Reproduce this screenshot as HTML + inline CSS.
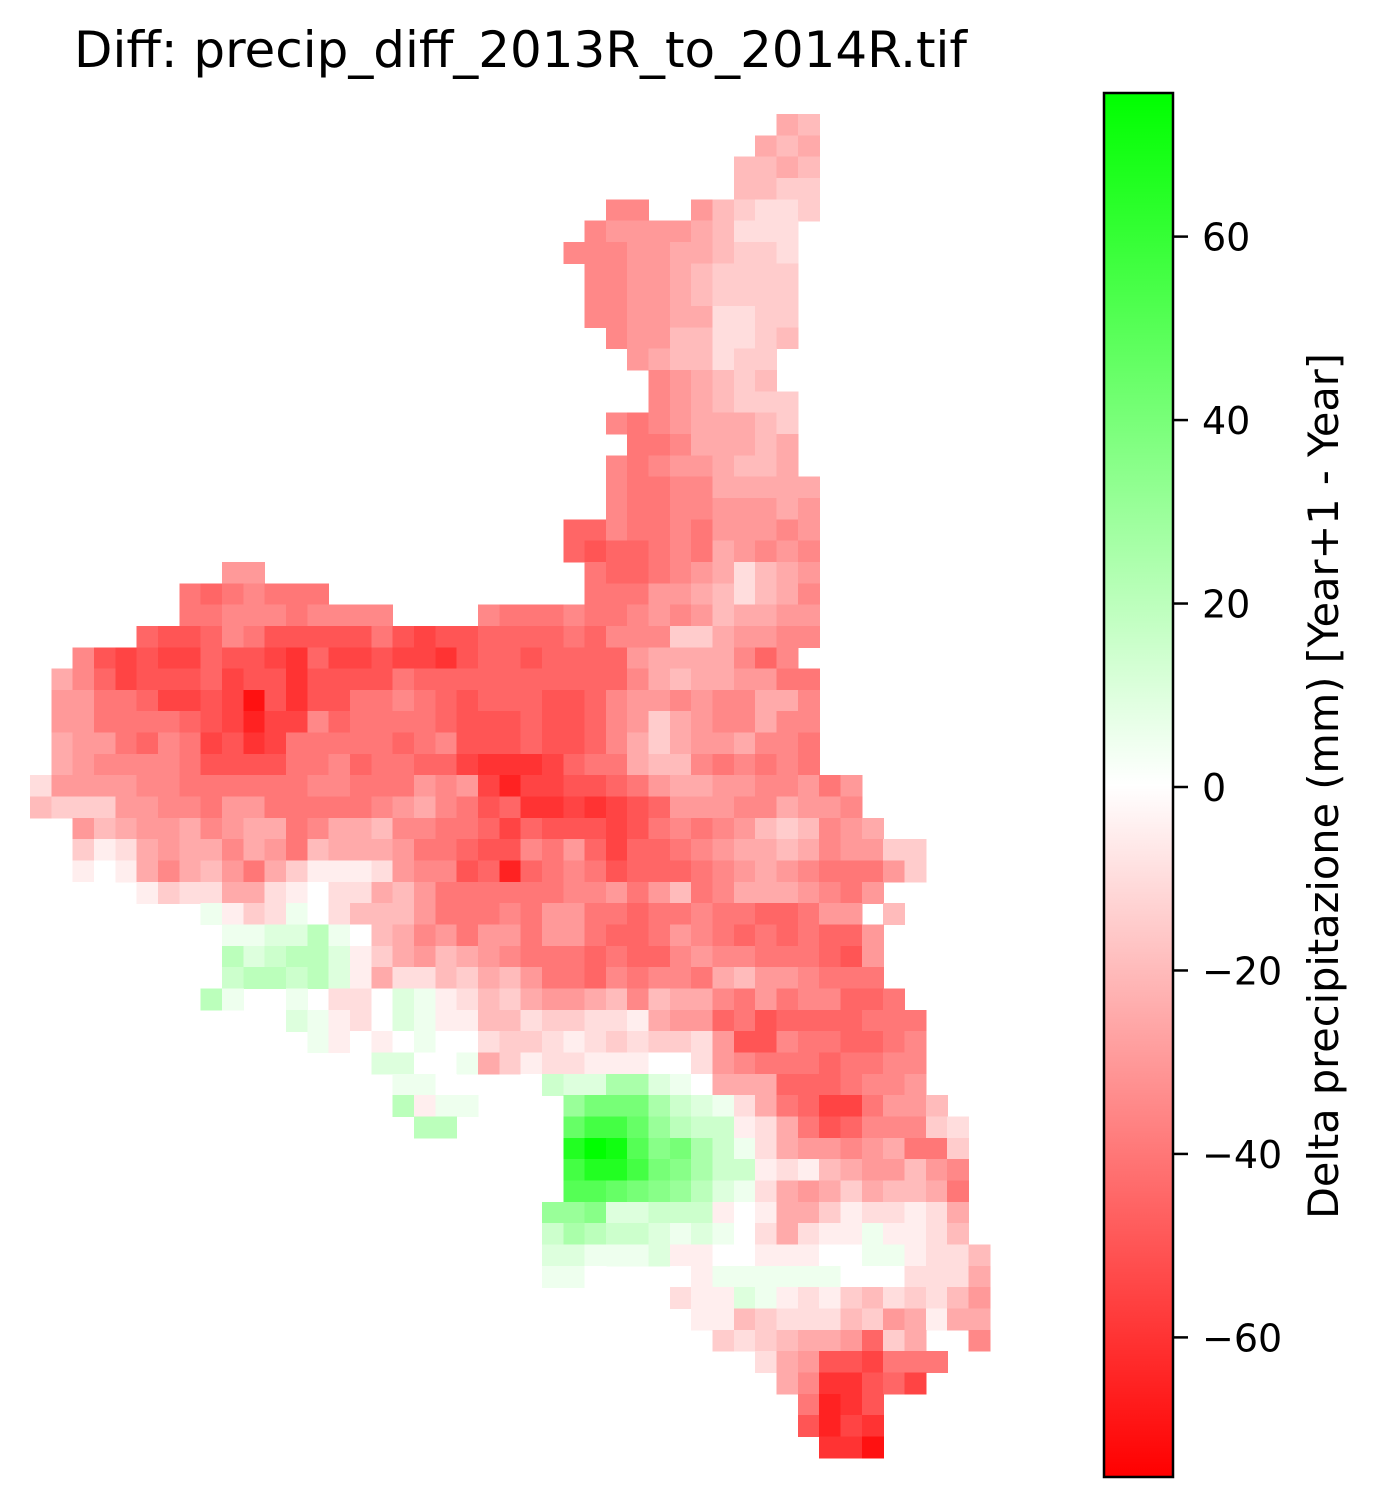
<!DOCTYPE html>
<html>
<head>
<meta charset="utf-8">
<style>
html,body{margin:0;padding:0;background:#fff;}
svg{display:block;font-family:"DejaVu Sans","Liberation Sans",sans-serif;}
</style>
</head>
<body>
<svg id="chart" width="1376" height="1509" viewBox="0 0 1376 1509" xmlns="http://www.w3.org/2000/svg">
  <text x="74" y="67" font-size="50" textLength="893" lengthAdjust="spacingAndGlyphs" fill="#000">Diff: precip_diff_2013R_to_2014R.tif</text>
  <g id="raster" shape-rendering="crispEdges"></g>
  <defs>
    <linearGradient id="cbgrad" x1="0" y1="0" x2="0" y2="1">
      <stop offset="0" stop-color="#00ff00"/>
      <stop offset="0.5" stop-color="#ffffff"/>
      <stop offset="1" stop-color="#ff0000"/>
    </linearGradient>
  </defs>
  <rect x="1104" y="93" width="69" height="1384" fill="url(#cbgrad)" stroke="#000" stroke-width="2.5"/>
  <g id="cbticks"></g>
  <text transform="translate(1338,786) rotate(-90)" text-anchor="middle" font-size="42" textLength="866" lengthAdjust="spacingAndGlyphs" fill="#000">Delta precipitazione (mm) [Year+1 - Year]</text>
</svg>
<script>
// Raster rows: "startCol:codes" segments; '.' = no data.
// codes: a..n = -70..-5 (step 5), 0 = 0, A..O = +5..+75
const rasterRows = [
"35:jk","34:jkj","33:kkjk","33:kkll","27:hh..iklmml","26:hiiiijkmmm","25:hhhiijjkllm",
"26:hhiijkllll","26:hhiijkllll","26:hhiijjmmll","27:hiikkmmlk","28:ijkkmll","29:hijklk",
"29:hijklll","27:hghijjjkl","28:gghjjjkj","27:hghiijkkj","27:hgghhjjjjj","27:hgghhiiiji",
"25:ffhgghgiiihi","25:feffghgjihih","9:ii 26:gffghijmkji","7:gfghggg 26:gggiijkmkjh",
"7:gghhhghhhh 21:hggghgghihikjjii",
"5:feefhgeeeeegedeeffffgfhhhlljiihh",
"2:hededdfeedcfddeddceffeffffijjjjhfh",
"1:jhfdeeefdeeceeeegffffffffffhjkjjiigg",
"1:iiggfddedaeceegghgfefffeefhiihihhjjh",
"1:iiggggfedbddhfggggfeeefeefhiljihhjhh",
"1:jiigfhgdecdgggggfgheeefeefhjljiijhhg",
"1:jihhhhgeeeegghfggffdcccdfggjkkhghghg",
"0:miiiihhgggggghhgggihidbddeefgijjiihhigi",
"0:kllliihhgiiggggghijhgefccdcdefiiihhjiih",
"2:ikjiijhijjghjjkhhggfdfeeedeghghiklkhij",
"2:lnmjijjhjigkjjjiggfeehgifdffghijjkjhiill",
"2:n0njhjkigjlnnnmihhefbfghgefffghijihgggil",
"2:0 5:nlmmjjmn0mmjkigggggghhigikghjjjihgi",
"8:AnlmA0mkkkiggghgiiggfgghggffgii 40:k",
"9:AABBDA0kjhigiigiigffgihgfgfgffi",
"9:DBCDDBnljikjihgggfgffhihhgggfei",
"9:CDDCDBnjmmkljkiggfhghhgjkiihggg",
"8:DA 12:A 14:mm0BAnmkljiijkhkjjhgighhffg",
"12:BAnm0BAnnkkmllmmnjiifgeffffggg",
"13:An0n0A00mllmnmlmllmieehggffgh",
"16:BB00Ajlnmmnnn00mihgggfgghh",
"17:AA0 23:0CBBEEBA0jjjfffghhi",
"17:DnAA 25:FHHHECBAmjgfddgiik",
"18:DD 25:IKKIFDCCnmjgefhhhlm",
"25:MONJGHECAmjiihijggl",
"25:KMMKHGECCnmnkjiikih",
"25:JJIHGFDBAmjijljkkjg",
"24:FFGBBCCCn0njjlnmmnmj",
"24:CEDCCBABA0mjmnnAnnmk",
"24:BBAAABnn00nnn00AAnmmk",
"24:AA0 30:0nAAAAAA000mmmj",
"30:mnnBAnmnlkmlmki",
"31:nnklmmmklijnjj",
"32:lmlkjjiflj 44:h",
"34:mjieedggg",
"35:jhccefd",
"36:gbce",
"36:ebdc",
"37:cca"
];
const cbTickValues = [60, 40, 20, 0, -20, -40, -60];
const cbTickLabels = ["60", "40", "20", "0", "\u221220", "\u221240", "\u221260"];
const vRange = [-75, 75];

const NS = "http://www.w3.org/2000/svg";
const X0 = 30, Y0 = 114, CELL = 21.33;
function colX(c){ return X0 + c * CELL; }
function rowY(r){ return Y0 + r * CELL; }
function decode(ch){
  if (ch === '0') return 0;
  const lo = "abcdefghijklmn".indexOf(ch);
  if (lo >= 0) return -70 + 5 * lo;
  const up = "ABCDEFGHIJKLMNO".indexOf(ch);
  if (up >= 0) return 5 * (up + 1);
  return null;
}
function color(v){
  const t = Math.min(1, Math.abs(v) / vRange[1]);
  const o = Math.round(255 * (1 - t));
  return v < 0 ? `rgb(255,${o},${o})` : `rgb(${o},255,${o})`;
}
const raster = document.getElementById('raster');
rasterRows.forEach((row, r) => {
  row.split(' ').forEach(seg => {
    const parts = seg.split(':');
    if (parts.length !== 2) return;
    const start = parseInt(parts[0], 10);
    const codes = parts[1];
    for (let i = 0; i < codes.length; i++) {
      const v = decode(codes[i]);
      if (v === null) continue;
      const c = start + i;
      const rect = document.createElementNS(NS, 'rect');
      
      
      rect.setAttribute('x', colX(c).toFixed(2));
      rect.setAttribute('y', rowY(r).toFixed(2));
      rect.setAttribute('width', (CELL + 0.6).toFixed(2));
      rect.setAttribute('height', (CELL + 0.6).toFixed(2));
      rect.setAttribute('fill', color(v));
      raster.appendChild(rect);
    }
  });
});
// colorbar axis
const CB_TOP = 99, CB_BOT = 1475, CB_X = 1173;
function cbY(v){ return CB_BOT - (v - vRange[0]) / (vRange[1] - vRange[0]) * (CB_BOT - CB_TOP); }
const ticks = document.getElementById('cbticks');
cbTickValues.forEach((v, i) => {
  const y = cbY(v);
  const ln = document.createElementNS(NS, 'line');
  
  
  ln.setAttribute('x1', CB_X); ln.setAttribute('x2', CB_X + 15);
  ln.setAttribute('y1', y); ln.setAttribute('y2', y);
  ln.setAttribute('stroke', '#000'); ln.setAttribute('stroke-width', '2.5');
  ticks.appendChild(ln);
  const tx = document.createElementNS(NS, 'text');
  
  
  tx.setAttribute('x', CB_X + 29);
  tx.setAttribute('y', y + 14);
  tx.setAttribute('font-size', '38');
  tx.textContent = cbTickLabels[i];
  ticks.appendChild(tx);
});
</script>
</body>
</html>
